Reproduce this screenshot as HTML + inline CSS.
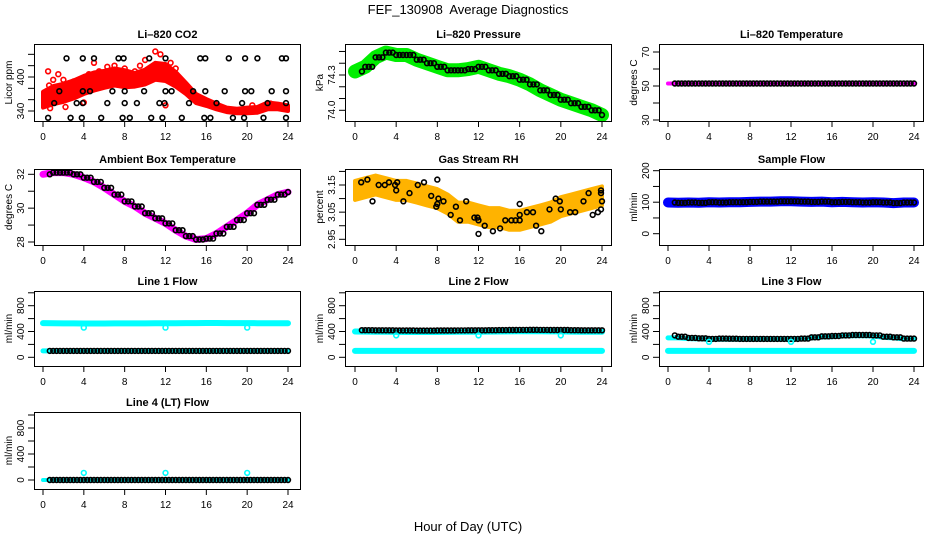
<!DOCTYPE html>
<html><head><meta charset="utf-8"><title>FEF_130908 Average Diagnostics</title>
<style>
html,body{margin:0;padding:0;background:#fff;}
svg{display:block;font-family:"Liberation Sans",sans-serif;}
</style></head>
<body>
<svg id="chart" width="936" height="540" viewBox="0 0 936 540" xmlns="http://www.w3.org/2000/svg">
<text x="468" y="14" text-anchor="middle" font-size="13" xml:space="preserve">FEF_130908  Average Diagnostics</text>
<text x="468" y="531" text-anchor="middle" font-size="13">Hour of Day (UTC)</text>
</svg>
<script>
// ---- data (hourly estimates, index = hour 0..24) ----
const hours = [0,1,2,3,4,5,6,7,8,9,10,11,12,13,14,15,16,17,18,19,20,21,22,23,24];
const co2Mean = [360,368,372,378,386,392,396,400,397,395,400,410,408,396,380,362,355,348,342,340,341,342,349,348,345];
const co2Spread = [14,16,16,16,16,16,15,15,15,12,13,15,15,13,10,8,6,5,4,4,5,5,6,5,5];
const co2RedT = [0.5,0.6,1.0,1.5,2.0,2.5,3.0,4.5,5.0,5.5,7.0,8.0,9.0,10.0,11.0,11.5,12.5,13.0,12.0,4.0,0.7,2.2,6.3,9.5,20.5,22.3];
const co2RedV = [410,385,395,405,395,378,392,405,425,410,420,415,410,430,445,440,425,415,350,355,345,347,418,420,350,353];
const co2BlackT = [0.5,2.7,3.8,5.7,7.8,8.5,10.6,11.7,13.6,15.8,16.4,18.6,19.7,21.6,23.8,
  1.1,3.3,3.9,6.3,8.0,9.2,11.4,11.9,14.3,17.0,19.5,22.0,23.8,
  1.6,3.9,4.6,6.8,8.0,9.9,12.0,12.6,14.7,15.9,17.8,19.8,20.4,22.4,23.8,
  2.3,3.9,5.0,7.4,7.9,10.4,12.0,15.4,15.9,18.2,19.8,21.0,23.4,23.8];
const co2BlackV = [328,328,328,328,328,328,328,328,328,328,328,328,328,328,328,
  354,354,354,354,354,354,354,354,354,354,354,354,354,
  375,375,375,375,375,375,375,375,375,375,375,375,375,375,375,
  433,433,433,433,433,433,433,433,433,433,433,433,433,433];
const pressure = [74.33,74.37,74.45,74.49,74.47,74.47,74.43,74.40,74.37,74.34,74.34,74.35,74.37,74.34,74.31,74.29,74.26,74.22,74.17,74.13,74.09,74.06,74.03,74.00,73.96];
const licorTemp = [51.5,51.5,51.5,51.5,51.5,51.5,51.5,51.5,51.5,51.5,51.5,51.5,51.5,51.5,51.5,51.5,51.5,51.5,51.5,51.5,51.5,51.5,51.5,51.5,51.5];
const ambient = [32.0,32.1,32.1,32.0,31.8,31.55,31.2,30.8,30.4,30.1,29.7,29.4,29.1,28.7,28.35,28.15,28.2,28.5,28.9,29.3,29.7,30.2,30.5,30.8,30.95];
const rhMean = [3.13,3.14,3.15,3.14,3.13,3.13,3.12,3.11,3.10,3.08,3.05,3.05,3.04,3.03,3.03,3.02,3.02,3.03,3.04,3.05,3.07,3.08,3.09,3.10,3.11];
const rhBlackT = [0.6,1.2,1.7,2.3,2.9,3.3,3.9,4.1,4.0,4.7,5.3,6.1,6.7,7.4,8.1,7.9,8.0,8.0,8.6,9.3,9.8,10.2,10.8,11.6,11.9,12.0,12.0,12.6,13.4,14.1,14.6,15.2,15.6,16.0,16.0,16.0,16.7,17.3,17.6,18.1,18.9,19.5,19.9,20.0,20.9,21.4,22.2,22.7,23.1,23.6,23.9,23.9,23.9,24.0];
const rhBlackV = [3.16,3.17,3.09,3.15,3.15,3.16,3.15,3.16,3.13,3.09,3.12,3.15,3.16,3.11,3.10,3.07,3.08,3.17,3.09,3.04,3.07,3.02,3.09,3.03,3.03,3.02,2.97,3.00,2.98,2.99,3.02,3.02,3.02,3.04,3.08,3.02,3.05,3.05,3.00,2.98,3.06,3.10,3.09,3.06,3.05,3.05,3.09,3.12,3.04,3.05,3.06,3.12,3.13,3.09];
const sampleFlow = [99,98,99,98,100,99,100,100,101,102,102,103,103,102,101,102,100,101,100,99,100,99,97,99,99];
const line1Cyan = [530,528,526,525,524,524,524,525,525,526,526,527,528,528,530,531,532,532,531,530,530,529,528,528,528];
const line1Black = [100,100,100,100,100,100,100,100,100,100,100,100,100,100,100,100,100,100,100,100,100,100,100,100,100];
const line2Black = [420,420,418,418,416,415,414,414,415,416,417,418,418,420,422,424,425,426,425,424,423,420,418,418,418];
const line2CyanHi = [400,398,396,396,394,393,392,392,393,394,395,396,396,398,400,402,403,404,403,402,401,398,396,396,396];
const line3Black = [340,320,300,295,285,290,288,285,285,285,285,285,285,290,310,325,330,340,345,345,340,320,310,290,290];
const line3CyanHi = [300,300,290,285,280,280,280,280,280,280,280,280,280,285,300,315,320,330,335,335,330,310,300,285,285];
const lowCyan = [100,100,100,100,100,100,100,100,100,100,100,100,100,100,100,100,100,100,100,100,100,100,100,100,100];
const line4Black = [0,0,0,0,0,0,0,0,0,0,0,0,0,0,0,0,0,0,0,0,0,0,0,0,0];
const outlierT = [4,12,20];
const line1Out = [460,460,460];
const line2Out = [340,340,340];
const line3Out = [240,240,240];
const line4Out = [110,110,110];
const xTicks = [0,4,8,12,16,20,24];

// ---- layout ----
const NS = "http://www.w3.org/2000/svg";
const svg = document.getElementById('chart');
const colBox = [[34,301],[345,612],[659,924]];
const colT = [[43,288],[355,602],[668,914]];
const rowBox = [[44,121],[169,245],[291,366],[412,489]];
const flowTicks = [0,200,400,600,800,1000];
const panels = {
  co2:{name:'li820-co2',title:'Li\u2013820 CO2',col:0,row:0,va:340,pa:111,vb:400,pb:77,ticks:[340,360,380,400,420,440],labels:['340','','','400','',''],ylab:'Licor ppm'},
  pres:{name:'li820-pressure',title:'Li\u2013820 Pressure',col:1,row:0,va:74.0,pa:110.3,vb:74.3,pb:75,ticks:[74.0,74.1,74.2,74.3,74.4,74.5],labels:['74.0','','','74.3','',''],ylab:'kPa'},
  temp:{name:'li820-temperature',title:'Li\u2013820 Temperature',col:2,row:0,va:30,pa:120,vb:70,pb:52,ticks:[30,40,50,60,70],labels:['30','','50','','70'],ylab:'degrees C'},
  amb:{name:'ambient-box-temperature',title:'Ambient Box Temperature',col:0,row:1,va:28,pa:242,vb:32,pb:174.3,ticks:[28,29,30,31,32],labels:['28','','30','','32'],ylab:'degrees C'},
  rh:{name:'gas-stream-rh',title:'Gas Stream RH',col:1,row:1,va:2.95,pa:239.3,vb:3.15,pb:185,ticks:[2.95,3.0,3.05,3.1,3.15,3.2],labels:['2.95','','3.05','','3.15',''],ylab:'percent'},
  sf:{name:'sample-flow',title:'Sample Flow',col:2,row:1,va:0,pa:233.7,vb:200,pb:170.7,ticks:[0,50,100,150,200],labels:['0','','100','','200'],ylab:'ml/min'},
  l1:{name:'line-1-flow',title:'Line 1 Flow',col:0,row:2,va:0,pa:357.3,vb:800,pb:305.7,ticks:flowTicks,labels:['0','','400','','800',''],ylab:'ml/min'},
  l2:{name:'line-2-flow',title:'Line 2 Flow',col:1,row:2,va:0,pa:357.3,vb:800,pb:305.7,ticks:flowTicks,labels:['0','','400','','800',''],ylab:'ml/min'},
  l3:{name:'line-3-flow',title:'Line 3 Flow',col:2,row:2,va:0,pa:357.3,vb:800,pb:305.7,ticks:flowTicks,labels:['0','','400','','800',''],ylab:'ml/min'},
  l4:{name:'line-4-lt-flow',title:'Line 4 (LT) Flow',col:0,row:3,va:0,pa:480,vb:800,pb:428,ticks:flowTicks,labels:['0','','400','','800',''],ylab:'ml/min'}
};
function mk(tag, attrs, parent){const e=document.createElementNS(NS,tag);for(const k in attrs)e.setAttribute(k,attrs[k]);(parent||svg).appendChild(e);return e;}
function X(p,t){const c=colT[p.col];return c[0]+(c[1]-c[0])*t/24;}
function Y(p,v){return p.pa+(p.pb-p.pa)*(v-p.va)/(p.vb-p.va);}

function frame(p){
  const g=mk('g',{});
  
  
  const [x0,x1]=colBox[p.col],[y0,y1]=rowBox[p.row];
  const clip=mk('clipPath',{id:'clip-'+p.name},g);
  mk('rect',{x:x0,y:y0,width:x1-x0,height:y1-y0},clip);
  const t=mk('text',{x:(x0+x1)/2,y:y0-6,'text-anchor':'middle','font-size':'11','font-weight':'bold'},g);
  t.textContent=p.title;
  
  
  const ax=mk('g',{stroke:'#000','stroke-width':'1'},g);
  
  
  mk('line',{x1:X(p,0),x2:X(p,24),y1:y1+0.5,y2:y1+0.5},ax);
  xTicks.forEach(v=>{
    const x=X(p,v);
    mk('line',{x1:x,x2:x,y1:y1,y2:y1+6},ax);
    const l=mk('text',{x:x,y:y1+19,'text-anchor':'middle','font-size':'10',stroke:'none'},ax);
    l.textContent=v;
  });
  const ay=mk('g',{stroke:'#000','stroke-width':'1'},g);
  
  
  p.ticks.forEach((v,i)=>{
    const y=Y(p,v);
    mk('line',{x1:x0-6,x2:x0,y1:y,y2:y},ay);
    if(p.labels[i]){
      const l=mk('text',{x:0,y:0,'text-anchor':'middle','font-size':'10',stroke:'none',transform:`translate(${x0-10},${y}) rotate(-90)`},ay);
      l.textContent=p.labels[i];
    }
  });
  const yl=mk('text',{x:0,y:0,'text-anchor':'middle','font-size':'10',transform:`translate(${x0-22},${(y0+y1)/2}) rotate(-90)`},g);
  yl.textContent=p.ylab;
  
  
  const plot=mk('g',{'clip-path':`url(#clip-${p.name})`},g);
  
  
  mk('rect',{x:x0+0.5,y:y0+0.5,width:x1-x0-1,height:y1-y0,fill:'none',stroke:'#000','stroke-width':'1'},g);
  return plot;
}
function band(plot,p,vals,width,color,name,t0,t1){
  const pts=hours.map((h,i)=>[Math.max(t0,Math.min(t1,h)),vals[i]]).map(a=>X(p,a[0]).toFixed(1)+','+Y(p,a[1]).toFixed(1)).join(' ');
  const e=mk('polyline',{points:pts,fill:'none',stroke:color,'stroke-width':width,'stroke-linejoin':'round','stroke-linecap':'round'},plot);
  
  
}
function spreadBand(plot,p,mean,spread,color,name){
  const up=hours.map((h,i)=>X(p,h).toFixed(1)+','+Y(p,mean[i]+spread[i]).toFixed(1));
  const dn=hours.map((h,i)=>X(p,h).toFixed(1)+','+Y(p,mean[i]-spread[i]).toFixed(1)).reverse();
  const e=mk('polygon',{points:up.concat(dn).join(' '),fill:color,stroke:color,'stroke-width':'4','stroke-linejoin':'round'},plot);
  
  
}
function circ(plot,p,t,v,color,name){
  const c=mk('circle',{cx:X(p,t).toFixed(1),cy:Y(p,v).toFixed(1),r:'2.4',fill:'none',stroke:color,'stroke-width':'1.6'},plot);
  
  
}
function hourlyCircles(plot,p,vals,color,name,start){
  hours.forEach((h,i)=>{
    for(let k=0;k<3;k++){const t=h+k/3; if(t<start||t>24) continue; circ(plot,p,t,vals[i],color,name);}
  });
}
function pairCircles(plot,p,ts,vs,color,name){ts.forEach((t,i)=>circ(plot,p,t,vs[i],color,name));}

// CO2
let P=panels.co2, g=frame(P);
spreadBand(g,P,co2Mean,co2Spread,'#ff0000','co2-red-series');
pairCircles(g,P,co2RedT,co2RedV,'#ff0000','co2-red-point');
pairCircles(g,P,co2BlackT,co2BlackV,'#000','co2-black-point');
// Pressure
P=panels.pres; g=frame(P);
band(g,P,pressure,14,'#00ee00','pressure-green-series',0,24);
hourlyCircles(g,P,pressure,'#000','pressure-black-point',0.5);
// Temperature
P=panels.temp; g=frame(P);
band(g,P,licorTemp,4,'#ff00ff','temperature-magenta-series',0,24);
hourlyCircles(g,P,licorTemp,'#000','temperature-black-point',0.5);
// Ambient
P=panels.amb; g=frame(P);
band(g,P,ambient,7,'#ff00ff','ambient-magenta-series',0,24);
hourlyCircles(g,P,ambient,'#000','ambient-black-point',0.5);
// RH
P=panels.rh; g=frame(P);
const rhSpread=hours.map(()=>0.035);
spreadBand(g,P,rhMean,rhSpread,'#ffb300','rh-orange-series');
pairCircles(g,P,rhBlackT,rhBlackV,'#000','rh-black-point');
// Sample flow
P=panels.sf; g=frame(P);
band(g,P,sampleFlow,10,'#0000ff','sample-flow-blue-series',0,24);
hourlyCircles(g,P,sampleFlow,'#000','sample-flow-black-point',0.5);
// Line 1
P=panels.l1; g=frame(P);
band(g,P,line1Cyan,6,'#00ffff','line1-cyan-series',0,24);
band(g,P,lowCyan,5,'#00ffff','line1-cyan-low-series',0,24);
hourlyCircles(g,P,line1Black,'#000','line1-black-point',0.5);
pairCircles(g,P,outlierT,line1Out,'#00ffff','line1-cyan-outlier');
// Line 2
P=panels.l2; g=frame(P);
band(g,P,line2CyanHi,6,'#00ffff','line2-cyan-series',0,24);
band(g,P,lowCyan,6,'#00ffff','line2-cyan-low-series',0,24);
hourlyCircles(g,P,line2Black,'#000','line2-black-point',0.5);
pairCircles(g,P,outlierT,line2Out,'#00ffff','line2-cyan-outlier');
// Line 3
P=panels.l3; g=frame(P);
band(g,P,line3CyanHi,5,'#00ffff','line3-cyan-series',0,24);
band(g,P,lowCyan,6,'#00ffff','line3-cyan-low-series',0,24);
hourlyCircles(g,P,line3Black,'#000','line3-black-point',0.5);
pairCircles(g,P,outlierT,line3Out,'#00ffff','line3-cyan-outlier');
// Line 4
P=panels.l4; g=frame(P);
band(g,P,line4Black,4,'#00ffff','line4-cyan-series',0,24);
hourlyCircles(g,P,line4Black,'#000','line4-black-point',0.5);
pairCircles(g,P,outlierT,line4Out,'#00ffff','line4-cyan-outlier');
</script>
</body></html>
